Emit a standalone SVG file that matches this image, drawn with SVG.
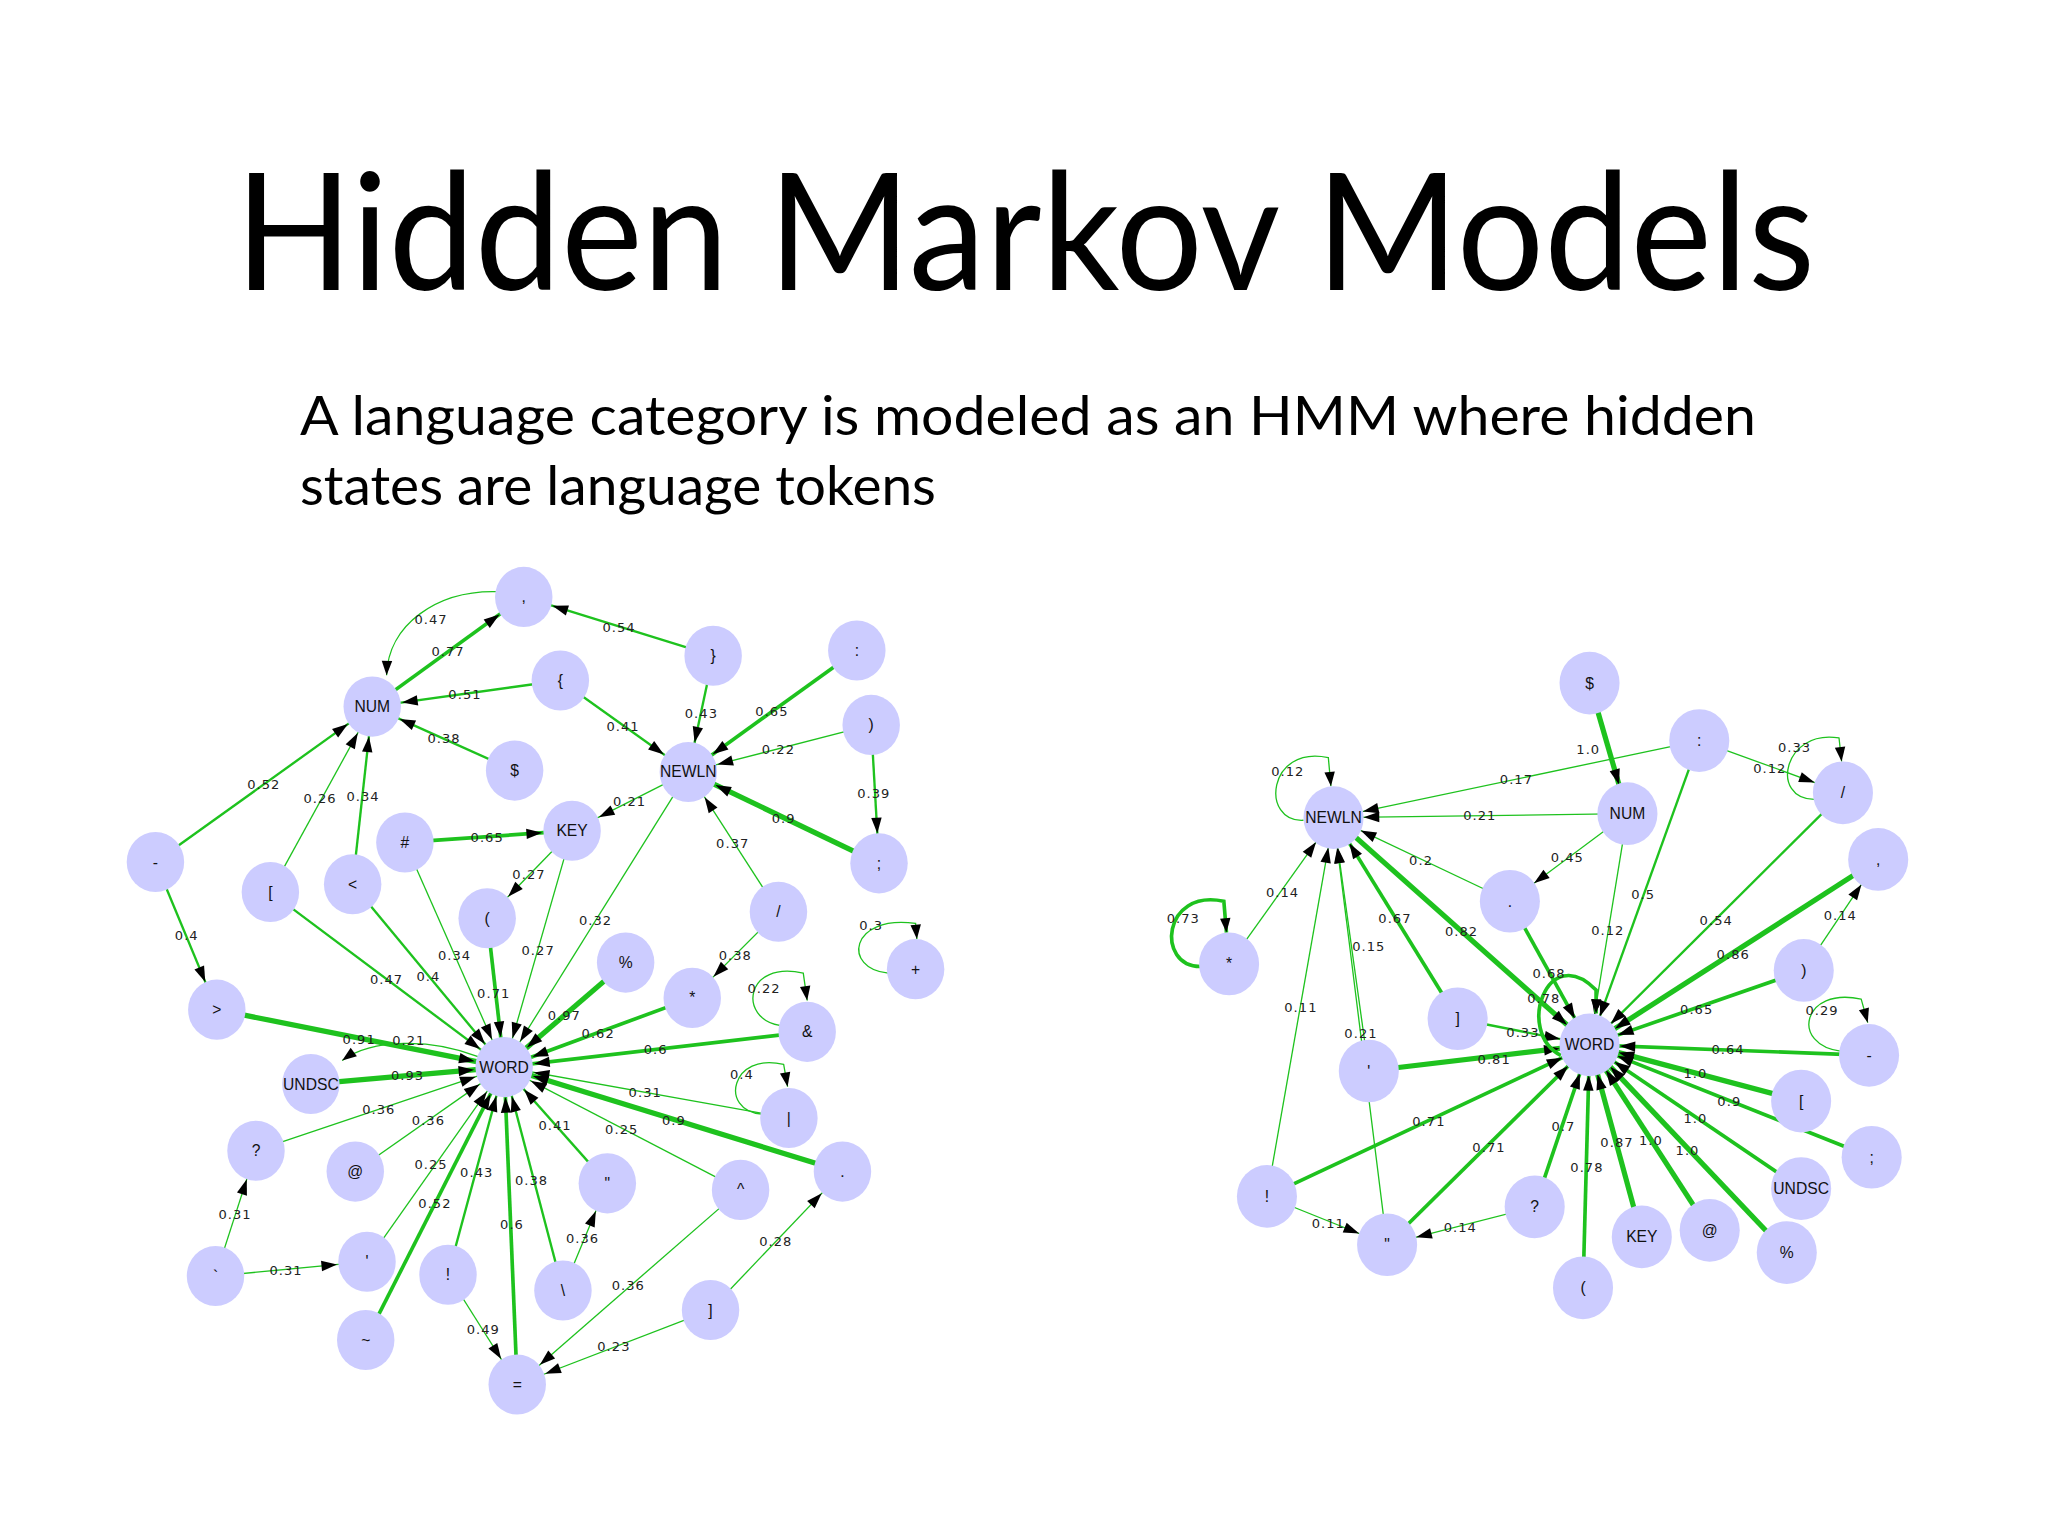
<svg xmlns="http://www.w3.org/2000/svg" width="2048" height="1536" viewBox="0 0 2048 1536">
<style>
.t{font-family:Lato,"Open Sans",sans-serif;fill:#000}
.n ellipse{fill:#ccccff}
.n text{font-family:"Liberation Sans",Arial,sans-serif;font-size:12px;text-anchor:middle;dominant-baseline:central;fill:#111}
.e line,.e path{stroke:#1ec21e;fill:none}
.e line{marker-end:url(#a)}
.e path{marker-end:url(#b)}
.w1{stroke-width:1}.w2{stroke-width:1.8}.w3{stroke-width:2.8}.w4{stroke-width:4}
.l text{font-family:"DejaVu Sans",sans-serif;font-size:10px;letter-spacing:0.8px;fill:#222;text-anchor:middle}
</style>
<defs>
<marker id="a" markerUnits="userSpaceOnUse" markerWidth="1" markerHeight="1" orient="auto" overflow="visible"><path d="M-35,-4 L-23,0 L-35,4 z" fill="#000"/></marker>
<marker id="b" markerUnits="userSpaceOnUse" markerWidth="1" markerHeight="1" orient="auto" overflow="visible"><path d="M-11,-4 L0,0 L-11,4 z" fill="#000"/></marker>
</defs>
<rect width="2048" height="1536" fill="#fff"/>
<text class="t" x="235" y="290" font-size="163" textLength="1580" lengthAdjust="spacingAndGlyphs">Hidden Markov Models</text>
<text class="t" x="300" y="435" font-size="55" textLength="1456" lengthAdjust="spacingAndGlyphs">A language category is modeled as an HMM where hidden</text>
<text class="t" x="300" y="505" font-size="55">states are language tokens</text>
<g transform="scale(1.30612)">
<g id="connectors" class="e">
<!-- left graph -->
<line class="w3" x1="285" y1="541" x2="401" y2="457"/>
<path class="w1" d="M380,453 C335,452 297,478 296,517"/>
<line class="w2" x1="546" y1="502" x2="401" y2="457"/>
<line class="w2" x1="429" y1="521" x2="285" y2="541"/>
<line class="w2" x1="429" y1="521" x2="527" y2="591"/>
<line class="w2" x1="546" y1="502" x2="527" y2="591"/>
<line class="w3" x1="656" y1="498" x2="527" y2="591"/>
<line class="w1" x1="667" y1="555" x2="527" y2="591"/>
<line class="w2" x1="667" y1="555" x2="673" y2="661"/>
<line class="w4" x1="673" y1="661" x2="527" y2="591"/>
<line class="w2" x1="394" y1="590" x2="285" y2="541"/>
<line class="w2" x1="119" y1="660" x2="285" y2="541"/>
<line class="w2" x1="119" y1="660" x2="166" y2="773"/>
<line class="w1" x1="207" y1="683" x2="285" y2="541"/>
<line class="w2" x1="270" y1="677" x2="285" y2="541"/>
<line class="w3" x1="310" y1="645" x2="438" y2="636"/>
<line class="w1" x1="527" y1="591" x2="438" y2="636"/>
<line class="w1" x1="438" y1="636" x2="373" y2="703"/>
<line class="w1" x1="596" y1="698" x2="527" y2="591"/>
<line class="w1" x1="596" y1="698" x2="530" y2="764"/>
<path class="w1" d="M680,745 C645,742 650,700 701,707 L702,719"/>
<path class="w1" d="M597,785 C565,780 570,735 615,745 L618,766"/>
<path class="w1" d="M583,853 C550,850 560,805 600,815 L603,832"/>
<path class="w1" d="M366,809 C330,795 285,795 262,812"/>
<line class="w2" x1="207" y1="683" x2="386" y2="817"/>
<line class="w2" x1="270" y1="677" x2="386" y2="817"/>
<line class="w1" x1="310" y1="645" x2="386" y2="817"/>
<line class="w3" x1="373" y1="703" x2="386" y2="817"/>
<line class="w1" x1="438" y1="636" x2="386" y2="817"/>
<line class="w1" x1="527" y1="591" x2="386" y2="817"/>
<line class="w4" x1="479" y1="737" x2="386" y2="817"/>
<line class="w3" x1="530" y1="764" x2="386" y2="817"/>
<line class="w3" x1="618" y1="790" x2="386" y2="817"/>
<line class="w1" x1="604" y1="856" x2="386" y2="817"/>
<line class="w4" x1="645" y1="897" x2="386" y2="817"/>
<line class="w1" x1="567" y1="911" x2="386" y2="817"/>
<line class="w2" x1="465" y1="906" x2="386" y2="817"/>
<line class="w2" x1="431" y1="988" x2="386" y2="817"/>
<line class="w3" x1="396" y1="1060" x2="386" y2="817"/>
<line class="w2" x1="343" y1="976" x2="386" y2="817"/>
<line class="w3" x1="280" y1="1026" x2="386" y2="817"/>
<line class="w1" x1="281" y1="966" x2="386" y2="817"/>
<line class="w1" x1="272" y1="897" x2="386" y2="817"/>
<line class="w1" x1="196" y1="881" x2="386" y2="817"/>
<line class="w4" x1="238" y1="830" x2="386" y2="817"/>
<line class="w4" x1="166" y1="773" x2="386" y2="817"/>
<line class="w1" x1="165" y1="977" x2="196" y2="881"/>
<line class="w1" x1="165" y1="977" x2="281" y2="966"/>
<line class="w1" x1="343" y1="976" x2="396" y2="1060"/>
<line class="w1" x1="431" y1="988" x2="465" y2="906"/>
<line class="w1" x1="567" y1="911" x2="396" y2="1060"/>
<line class="w1" x1="544" y1="1003" x2="396" y2="1060"/>
<line class="w1" x1="544" y1="1003" x2="645" y2="897"/>
<!-- right graph -->
<line class="w4" x1="1217" y1="523" x2="1246" y2="623"/>
<line class="w1" x1="1301" y1="567" x2="1021" y2="626"/>
<line class="w1" x1="1246" y1="623" x2="1021" y2="626"/>
<path class="w1" d="M998,628 C965,630 970,570 1017,580 L1019,602"/>
<line class="w1" x1="1301" y1="567" x2="1411" y2="607"/>
<path class="w1" d="M1389,612 C1355,612 1365,558 1408,565 L1410,583"/>
<line class="w1" x1="1246" y1="623" x2="1156" y2="690"/>
<line class="w1" x1="1156" y1="690" x2="1021" y2="626"/>
<line class="w1" x1="1246" y1="623" x2="1217" y2="800"/>
<line class="w2" x1="1301" y1="567" x2="1217" y2="800"/>
<line class="w2" x1="1411" y1="607" x2="1217" y2="800"/>
<line class="w4" x1="1438" y1="658" x2="1217" y2="800"/>
<line class="w1" x1="1381" y1="743" x2="1438" y2="658"/>
<line class="w3" x1="1381" y1="743" x2="1217" y2="800"/>
<path class="w1" d="M1410,805 C1370,800 1380,755 1425,765 L1430,783"/>
<line class="w3" x1="1431" y1="808" x2="1217" y2="800"/>
<line class="w4" x1="1379" y1="843" x2="1217" y2="800"/>
<line class="w3" x1="1433" y1="886" x2="1217" y2="800"/>
<line class="w3" x1="1379" y1="910" x2="1217" y2="800"/>
<line class="w4" x1="1368" y1="959" x2="1217" y2="800"/>
<line class="w4" x1="1309" y1="942" x2="1217" y2="800"/>
<line class="w4" x1="1257" y1="947" x2="1217" y2="800"/>
<line class="w3" x1="1212" y1="986" x2="1217" y2="800"/>
<line class="w3" x1="1175" y1="924" x2="1217" y2="800"/>
<line class="w3" x1="1062" y1="953" x2="1217" y2="800"/>
<line class="w3" x1="970" y1="916" x2="1217" y2="800"/>
<line class="w4" x1="1048" y1="820" x2="1217" y2="800"/>
<line class="w2" x1="1116" y1="780" x2="1217" y2="800"/>
<line class="w3" x1="1156" y1="690" x2="1217" y2="800"/>
<path class="w3" d="M1195,808 C1160,790 1185,720 1222,758 L1222,776"/>
<line class="w4" x1="1021" y1="626" x2="1217" y2="800"/>
<line class="w3" x1="1116" y1="780" x2="1021" y2="626"/>
<line class="w1" x1="1048" y1="820" x2="1021" y2="626"/>
<line class="w1" x1="1062" y1="953" x2="1021" y2="626"/>
<line class="w1" x1="970" y1="916" x2="1021" y2="626"/>
<line class="w1" x1="941" y1="738" x2="1021" y2="626"/>
<path class="w3" d="M919,740 C885,740 890,680 937,690 L939,714"/>
<line class="w1" x1="970" y1="916" x2="1062" y2="953"/>
<line class="w1" x1="1175" y1="924" x2="1062" y2="953"/>
</g>
<g class="l">
<text x="330" y="478">0.47</text><text x="343" y="502">0.77</text><text x="474" y="484">0.54</text>
<text x="356" y="535">0.51</text><text x="477" y="560">0.41</text><text x="537" y="550">0.43</text>
<text x="591" y="548">0.65</text><text x="596" y="577">0.22</text><text x="669" y="611">0.39</text>
<text x="600" y="630">0.9</text><text x="340" y="569">0.38</text><text x="202" y="604">0.52</text>
<text x="245" y="615">0.26</text><text x="278" y="613">0.34</text><text x="373" y="645">0.65</text>
<text x="482" y="617">0.21</text><text x="405" y="673">0.27</text><text x="561" y="649">0.37</text>
<text x="563" y="735">0.38</text><text x="667" y="712">0.3</text><text x="585" y="760">0.22</text>
<text x="568" y="826">0.4</text><text x="143" y="720">0.4</text><text x="296" y="753">0.47</text>
<text x="328" y="751">0.4</text><text x="348" y="735">0.34</text><text x="378" y="764">0.71</text>
<text x="412" y="731">0.27</text><text x="456" y="708">0.32</text><text x="432" y="781">0.97</text>
<text x="458" y="795">0.62</text><text x="502" y="807">0.6</text><text x="275" y="799">0.91</text>
<text x="313" y="800">0.21</text><text x="312" y="827">0.93</text><text x="494" y="840">0.31</text>
<text x="516" y="861">0.9</text><text x="290" y="853">0.36</text><text x="328" y="861">0.36</text>
<text x="425" y="865">0.41</text><text x="476" y="868">0.25</text><text x="330" y="895">0.25</text>
<text x="365" y="901">0.43</text><text x="407" y="907">0.38</text><text x="333" y="925">0.52</text>
<text x="392" y="941">0.6</text><text x="446" y="952">0.36</text><text x="180" y="933">0.31</text>
<text x="219" y="976">0.31</text><text x="370" y="1021">0.49</text><text x="481" y="988">0.36</text>
<text x="470" y="1034">0.23</text><text x="594" y="954">0.28</text>
<text x="1216" y="577">1.0</text><text x="1161" y="600">0.17</text><text x="986" y="594">0.12</text>
<text x="1374" y="576">0.33</text><text x="1355" y="592">0.12</text><text x="1133" y="628">0.21</text>
<text x="1200" y="660">0.45</text><text x="1088" y="662">0.2</text><text x="1258" y="688">0.5</text>
<text x="1231" y="716">0.12</text><text x="1314" y="708">0.54</text><text x="1327" y="734">0.86</text>
<text x="1409" y="704">0.14</text><text x="1299" y="776">0.65</text><text x="1395" y="777">0.29</text>
<text x="1323" y="807">0.64</text><text x="1298" y="825">1.0</text><text x="1324" y="847">0.9</text>
<text x="1298" y="860">1.0</text><text x="1292" y="884">1.0</text><text x="1264" y="877">1.0</text>
<text x="1238" y="878">0.87</text><text x="1215" y="897">0.78</text><text x="1197" y="866">0.7</text>
<text x="1140" y="882">0.71</text><text x="1094" y="862">0.71</text><text x="1144" y="815">0.81</text>
<text x="1166" y="794">0.33</text><text x="1186" y="749">0.68</text><text x="1182" y="768">0.78</text>
<text x="1119" y="717">0.82</text><text x="1068" y="707">0.67</text><text x="1048" y="728">0.15</text>
<text x="982" y="687">0.14</text><text x="906" y="707">0.73</text><text x="996" y="775">0.11</text>
<text x="1042" y="795">0.21</text><text x="1017" y="940">0.11</text><text x="1118" y="943">0.14</text>
</g>
<g class="n">
<g id="L_comma"><ellipse cx="401" cy="457" rx="22" ry="23"/><text x="401" y="457">,</text></g>
<g id="L_rbrace"><ellipse cx="546" cy="502" rx="22" ry="23"/><text x="546" y="502">}</text></g>
<g id="L_colon"><ellipse cx="656" cy="498" rx="22" ry="23"/><text x="656" y="498">:</text></g>
<g id="L_lbrace"><ellipse cx="429" cy="521" rx="22" ry="23"/><text x="429" y="521">{</text></g>
<g id="L_NUM"><ellipse cx="285" cy="541" rx="22" ry="23"/><text x="285" y="541">NUM</text></g>
<g id="L_rparen"><ellipse cx="667" cy="555" rx="22" ry="23"/><text x="667" y="555">)</text></g>
<g id="L_NEWLN"><ellipse cx="527" cy="591" rx="22" ry="23"/><text x="527" y="591">NEWLN</text></g>
<g id="L_dollar"><ellipse cx="394" cy="590" rx="22" ry="23"/><text x="394" y="590">$</text></g>
<g id="L_dash"><ellipse cx="119" cy="660" rx="22" ry="23"/><text x="119" y="660">-</text></g>
<g id="L_semi"><ellipse cx="673" cy="661" rx="22" ry="23"/><text x="673" y="661">;</text></g>
<g id="L_hash"><ellipse cx="310" cy="645" rx="22" ry="23"/><text x="310" y="645">#</text></g>
<g id="L_KEY"><ellipse cx="438" cy="636" rx="22" ry="23"/><text x="438" y="636">KEY</text></g>
<g id="L_lbrack"><ellipse cx="207" cy="683" rx="22" ry="23"/><text x="207" y="683">[</text></g>
<g id="L_lt"><ellipse cx="270" cy="677" rx="22" ry="23"/><text x="270" y="677">&lt;</text></g>
<g id="L_lparen"><ellipse cx="373" cy="703" rx="22" ry="23"/><text x="373" y="703">(</text></g>
<g id="L_slash"><ellipse cx="596" cy="698" rx="22" ry="23"/><text x="596" y="698">/</text></g>
<g id="L_plus"><ellipse cx="701" cy="742" rx="22" ry="23"/><text x="701" y="742">+</text></g>
<g id="L_pct"><ellipse cx="479" cy="737" rx="22" ry="23"/><text x="479" y="737">%</text></g>
<g id="L_star"><ellipse cx="530" cy="764" rx="22" ry="23"/><text x="530" y="764">*</text></g>
<g id="L_gt"><ellipse cx="166" cy="773" rx="22" ry="23"/><text x="166" y="773">&gt;</text></g>
<g id="L_amp"><ellipse cx="618" cy="790" rx="22" ry="23"/><text x="618" y="790">&amp;</text></g>
<g id="L_WORD"><ellipse cx="386" cy="817" rx="22" ry="23"/><text x="386" y="817">WORD</text></g>
<g id="L_UNDSC"><ellipse cx="238" cy="830" rx="22" ry="23"/><text x="238" y="830">UNDSC</text></g>
<g id="L_pipe"><ellipse cx="604" cy="856" rx="22" ry="23"/><text x="604" y="856">|</text></g>
<g id="L_q"><ellipse cx="196" cy="881" rx="22" ry="23"/><text x="196" y="881">?</text></g>
<g id="L_at"><ellipse cx="272" cy="897" rx="22" ry="23"/><text x="272" y="897">@</text></g>
<g id="L_dq"><ellipse cx="465" cy="906" rx="22" ry="23"/><text x="465" y="906">"</text></g>
<g id="L_caret"><ellipse cx="567" cy="911" rx="22" ry="23"/><text x="567" y="911">^</text></g>
<g id="L_dot"><ellipse cx="645" cy="897" rx="22" ry="23"/><text x="645" y="897">.</text></g>
<g id="L_bt"><ellipse cx="165" cy="977" rx="22" ry="23"/><text x="165" y="977">`</text></g>
<g id="L_sq"><ellipse cx="281" cy="966" rx="22" ry="23"/><text x="281" y="966">'</text></g>
<g id="L_excl"><ellipse cx="343" cy="976" rx="22" ry="23"/><text x="343" y="976">!</text></g>
<g id="L_bs"><ellipse cx="431" cy="988" rx="22" ry="23"/><text x="431" y="988">\</text></g>
<g id="L_rbrack"><ellipse cx="544" cy="1003" rx="22" ry="23"/><text x="544" y="1003">]</text></g>
<g id="L_tilde"><ellipse cx="280" cy="1026" rx="22" ry="23"/><text x="280" y="1026">~</text></g>
<g id="L_eq"><ellipse cx="396" cy="1060" rx="22" ry="23"/><text x="396" y="1060">=</text></g>
<g id="R_dollar"><ellipse cx="1217" cy="523" rx="23" ry="24"/><text x="1217" y="523">$</text></g>
<g id="R_colon"><ellipse cx="1301" cy="567" rx="23" ry="24"/><text x="1301" y="567">:</text></g>
<g id="R_slash"><ellipse cx="1411" cy="607" rx="23" ry="24"/><text x="1411" y="607">/</text></g>
<g id="R_NEWLN"><ellipse cx="1021" cy="626" rx="23" ry="24"/><text x="1021" y="626">NEWLN</text></g>
<g id="R_NUM"><ellipse cx="1246" cy="623" rx="23" ry="24"/><text x="1246" y="623">NUM</text></g>
<g id="R_comma"><ellipse cx="1438" cy="658" rx="23" ry="24"/><text x="1438" y="658">,</text></g>
<g id="R_dot"><ellipse cx="1156" cy="690" rx="23" ry="24"/><text x="1156" y="690">.</text></g>
<g id="R_star"><ellipse cx="941" cy="738" rx="23" ry="24"/><text x="941" y="738">*</text></g>
<g id="R_rparen"><ellipse cx="1381" cy="743" rx="23" ry="24"/><text x="1381" y="743">)</text></g>
<g id="R_rbrack"><ellipse cx="1116" cy="780" rx="23" ry="24"/><text x="1116" y="780">]</text></g>
<g id="R_WORD"><ellipse cx="1217" cy="800" rx="23" ry="24"/><text x="1217" y="800">WORD</text></g>
<g id="R_dash"><ellipse cx="1431" cy="808" rx="23" ry="24"/><text x="1431" y="808">-</text></g>
<g id="R_sq"><ellipse cx="1048" cy="820" rx="23" ry="24"/><text x="1048" y="820">'</text></g>
<g id="R_lbrack"><ellipse cx="1379" cy="843" rx="23" ry="24"/><text x="1379" y="843">[</text></g>
<g id="R_semi"><ellipse cx="1433" cy="886" rx="23" ry="24"/><text x="1433" y="886">;</text></g>
<g id="R_UNDSC"><ellipse cx="1379" cy="910" rx="23" ry="24"/><text x="1379" y="910">UNDSC</text></g>
<g id="R_excl"><ellipse cx="970" cy="916" rx="23" ry="24"/><text x="970" y="916">!</text></g>
<g id="R_q"><ellipse cx="1175" cy="924" rx="23" ry="24"/><text x="1175" y="924">?</text></g>
<g id="R_dq"><ellipse cx="1062" cy="953" rx="23" ry="24"/><text x="1062" y="953">"</text></g>
<g id="R_KEY"><ellipse cx="1257" cy="947" rx="23" ry="24"/><text x="1257" y="947">KEY</text></g>
<g id="R_at"><ellipse cx="1309" cy="942" rx="23" ry="24"/><text x="1309" y="942">@</text></g>
<g id="R_pct"><ellipse cx="1368" cy="959" rx="23" ry="24"/><text x="1368" y="959">%</text></g>
<g id="R_lparen"><ellipse cx="1212" cy="986" rx="23" ry="24"/><text x="1212" y="986">(</text></g>
</g>
</g>
</svg>
